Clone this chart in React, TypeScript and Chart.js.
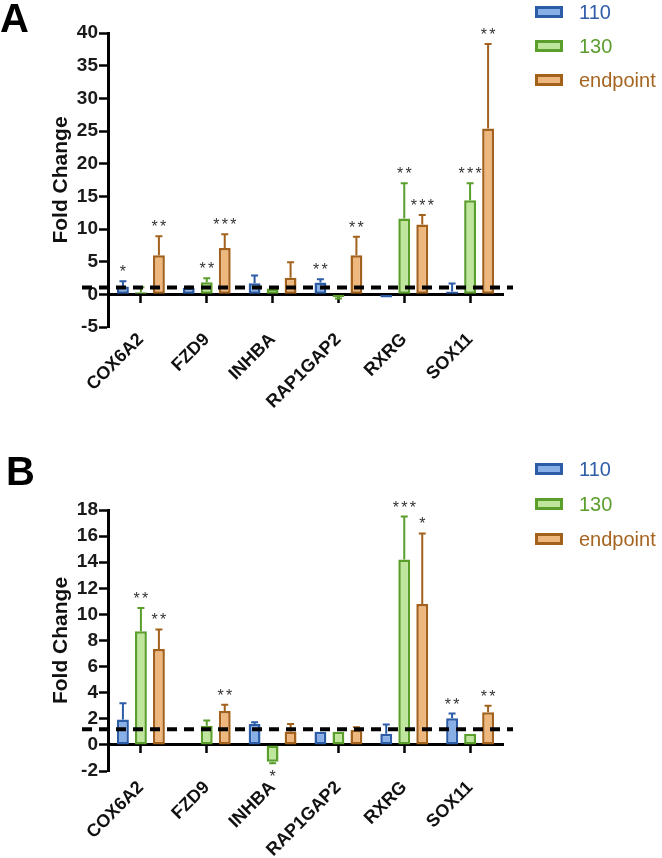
import React, { useEffect, useRef } from 'react';
import { Chart, registerables } from 'chart.js';

Chart.register(...registerables);

const FONT = '"Liberation Sans", Arial, Helvetica, sans-serif';

const genes = ['COX6A2', 'FZD9', 'INHBA', 'RAP1GAP2', 'RXRG', 'SOX11'];
const seriesNames = ['110', '130', 'endpoint'];

// Panel A
const a110 = [1.2, 1.0, 1.7, 1.8, -0.5, 0.45];
const a110Err = [0.8, 0.15, 1.2, 0.5, 0, 1.2];
const a130 = [0.3, 1.85, 0.9, -0.4, 11.6, 14.4];
const a130Err = [0.8, 0.6, 0, 0.25, 5.4, 2.6];
const aEnd = [6.0, 7.1, 2.55, 6.0, 10.7, 25.4];
const aEndErr = [2.9, 2.1, 2.35, 2.8, 1.45, 12.9];
const a110Stars = ['*', '', '', '**', '', ''];
const a130Stars = ['', '**', '', '', '**', '***'];
const aEndStars = ['**', '***', '', '**', '***', '**'];
const aYMin = -5;
const aYMax = 40;
const aYStep = 5;
const aRefLine = 1.05;

// Panel B
const b110 = [1.95, null, 1.6, 1.0, 0.85, 2.05];
const b110Err = [1.25, 0, 0.13, 0, 0.72, 0.35];
const b130 = [8.7, 1.47, -1.3, 1.0, 14.2, 0.85];
const b130Err = [1.8, 0.4, 0.1, 0, 3.3, 0];
const bEnd = [7.35, 2.6, 1.03, 1.15, 10.8, 2.5];
const bEndErr = [1.5, 0.47, 0.57, 0.2, 5.4, 0.5];
const b110Stars = ['', '', '', '', '', '**'];
const b130Stars = ['**', '', '*', '', '***', ''];
const bEndStars = ['**', '**', '', '', '*', '**'];
const bYMin = -2;
const bYMax = 18;
const bYStep = 2;
const bRefLine = 1.2;

const borderColors = ['#2C5CA6', '#5A9E2C', '#A2611D'];
const fillColors = ['#88B0E6', '#BFE69C', '#EDB77E'];
const textColors = ['#2F5DA8', '#5C9E2E', '#A5641F'];

type PanelSpec = {
  letter: string;
  letterX: number;
  letterY: number;
  values: (number | null)[][];
  errors: number[][];
  stars: string[][];
  yMin: number;
  yMax: number;
  yStep: number;
  refLine: number;
  height: number;
  top: number;
  areaTop: number;
  areaBottom: number;
  labelPad: number;
  legendY: number[];
};

const panels: PanelSpec[] = [
  {
    letter: 'A', letterX: 0, letterY: 32,
    values: [a110, a130, aEnd],
    errors: [a110Err, a130Err, aEndErr],
    stars: [a110Stars, a130Stars, aEndStars],
    yMin: aYMin, yMax: aYMax, yStep: aYStep, refLine: aRefLine,
    height: 420, top: 0, areaTop: 33, areaBottom: 327, labelPad: -6,
    legendY: [12, 46, 80],
  },
  {
    letter: 'B', letterX: 6, letterY: 65,
    values: [b110, b130, bEnd],
    errors: [b110Err, b130Err, bEndErr],
    stars: [b110Stars, b130Stars, bEndStars],
    yMin: bYMin, yMax: bYMax, yStep: bYStep, refLine: bRefLine,
    height: 438, top: 420, areaTop: 90, areaBottom: 351, labelPad: -2,
    legendY: [49, 84, 119],
  },
];

const AREA_LEFT = 108;
const AREA_RIGHT = 503;
const WIDTH = 662;

function makeAnnotPlugin(p: PanelSpec) {
  return {
    id: 'annot',
    afterDatasetsDraw(chart: any) {
      const ctx = chart.ctx as CanvasRenderingContext2D;
      const y = chart.scales.y;
      const ca = chart.chartArea;
      ctx.save();
      const ends: number[][] = [];
      chart.data.datasets.forEach((ds: any, i: number) => {
        const meta = chart.getDatasetMeta(i);
        ends[i] = [];
        meta.data.forEach((bar: any, j: number) => {
          const v = ds.data[j];
          if (v == null) return;
          const e = p.errors[i][j];
          const sign = v < 0 ? -1 : 1;
          const topPx = y.getPixelForValue(v);
          let endPx = topPx;
          if (e > 0) {
            endPx = y.getPixelForValue(v + sign * e);
            ctx.strokeStyle = borderColors[i];
            ctx.lineWidth = 2;
            ctx.beginPath();
            ctx.moveTo(bar.x, topPx);
            ctx.lineTo(bar.x, endPx);
            ctx.moveTo(bar.x - 3.5, endPx);
            ctx.lineTo(bar.x + 3.5, endPx);
            ctx.stroke();
          }
          ends[i][j] = endPx;
        });
      });
      // reference dashed line
      const ry = y.getPixelForValue(p.refLine);
      ctx.setLineDash([10, 7]);
      ctx.lineWidth = 4;
      ctx.strokeStyle = '#000';
      ctx.beginPath();
      ctx.moveTo(ca.left - 26, ry);
      ctx.lineTo(ca.right + 10, ry);
      ctx.stroke();
      ctx.setLineDash([]);
      // significance stars
      ctx.fillStyle = '#333';
      ctx.font = `16px ${FONT}`;
      ctx.textAlign = 'center';
      ctx.textBaseline = 'alphabetic';
      chart.data.datasets.forEach((ds: any, i: number) => {
        const meta = chart.getDatasetMeta(i);
        meta.data.forEach((bar: any, j: number) => {
          const s = p.stars[i][j];
          const v = ds.data[j];
          if (!s || v == null) return;
          const endPx = ends[i][j];
          const base = v < 0 ? endPx + 19 : endPx - 4;
          const n = s.length;
          for (let k = 0; k < n; k++) {
            ctx.fillText('*', bar.x + (k - (n - 1) / 2) * 8.5, base);
          }
        });
      });
      ctx.restore();
    },
    afterDraw(chart: any) {
      const ctx = chart.ctx as CanvasRenderingContext2D;
      const ca = chart.chartArea;
      ctx.save();
      // legend
      const bx = ca.right + 32;
      seriesNames.forEach((name, i) => {
        const yc = p.legendY[i];
        ctx.fillStyle = fillColors[i];
        ctx.fillRect(bx, yc - 6, 28, 12);
        ctx.strokeStyle = borderColors[i];
        ctx.lineWidth = 3;
        ctx.strokeRect(bx + 1.5, yc - 4.5, 25, 9);
        ctx.fillStyle = textColors[i];
        ctx.font = `20px ${FONT}`;
        ctx.textAlign = 'left';
        ctx.textBaseline = 'middle';
        ctx.fillText(name, bx + 44, yc + 1);
      });
      // panel letter
      ctx.fillStyle = '#000';
      ctx.font = `bold 40px ${FONT}`;
      ctx.textAlign = 'left';
      ctx.textBaseline = 'alphabetic';
      ctx.fillText(p.letter, p.letterX, p.letterY);
      ctx.restore();
    },
  };
}

function Panel({ p }: { p: PanelSpec }) {
  const ref = useRef<HTMLCanvasElement | null>(null);
  useEffect(() => {
    if (!ref.current) return;
    const datasets = p.values.map((vals, i) => ({
      label: seriesNames[i],
      data: vals,
      backgroundColor: fillColors[i],
      borderColor: borderColors[i],
      borderWidth: 2.5,
      borderSkipped: false as const,
      barPercentage: 0.66,
      categoryPercentage: 0.82,
      xAxisID: 'x',
      yAxisID: 'y',
    }));
    const chart = new Chart(ref.current, {
      type: 'bar',
      data: { labels: genes, datasets },
      options: {
        responsive: false,
        animation: false,
        devicePixelRatio: 1,
        layout: {
          padding: { top: p.areaTop, left: 0, right: WIDTH - AREA_RIGHT, bottom: 0 },
        },
        plugins: {
          legend: { display: false },
          tooltip: { enabled: false },
        },
        scales: {
          x: {
            type: 'category',
            position: 'bottom',
            offset: true,
            grid: { display: false },
            border: { display: false },
            ticks: {
              autoSkip: false,
              maxRotation: 45,
              minRotation: 45,
              padding: p.labelPad,
              color: '#111',
              font: { family: FONT, size: 18, weight: 'bold' },
            },
            afterFit: (s: any) => {
              s.height = p.height - p.areaBottom;
            },
          },
          x0: {
            type: 'category',
            axis: 'x',
            position: { y: 0 },
            offset: true,
            z: 1,
            grid: {
              offset: false,
              drawOnChartArea: false,
              drawTicks: true,
              tickLength: 7,
              tickWidth: 2.5,
              color: '#000',
            },
            border: { display: true, color: '#000', width: 3 },
            ticks: { display: false },
          },
          y: {
            type: 'linear',
            position: 'left',
            min: p.yMin,
            max: p.yMax,
            z: 1,
            ticks: {
              stepSize: p.yStep,
              padding: 1,
              color: '#1a1a1a',
              font: { family: FONT, size: 19, weight: 'bold' },
            },
            grid: {
              drawOnChartArea: false,
              drawTicks: true,
              tickLength: 9,
              tickWidth: 2.5,
              color: '#000',
            },
            border: { display: true, color: '#000', width: 3 },
            title: {
              display: true,
              text: 'Fold Change',
              color: '#111',
              font: { family: FONT, size: 21, weight: 'bold' },
              padding: { top: 49, bottom: 0 },
            },
            afterFit: (s: any) => {
              s.width = AREA_LEFT;
            },
          },
        } as any,
      },
      plugins: [makeAnnotPlugin(p)],
    });
    return () => chart.destroy();
  }, [p]);
  return (
    <canvas
      ref={ref}
      width={WIDTH}
      height={p.height}
      style={{ position: 'absolute', left: 0, top: p.top, width: WIDTH, height: p.height, display: 'block' }}
    />
  );
}

export default function App() {
  return (
    <div style={{ position: 'absolute', left: 0, top: 0, width: WIDTH, height: 858, background: '#fff', overflow: 'hidden' }}>
      {panels.map((p) => (
        <Panel key={p.letter} p={p} />
      ))}
    </div>
  );
}
